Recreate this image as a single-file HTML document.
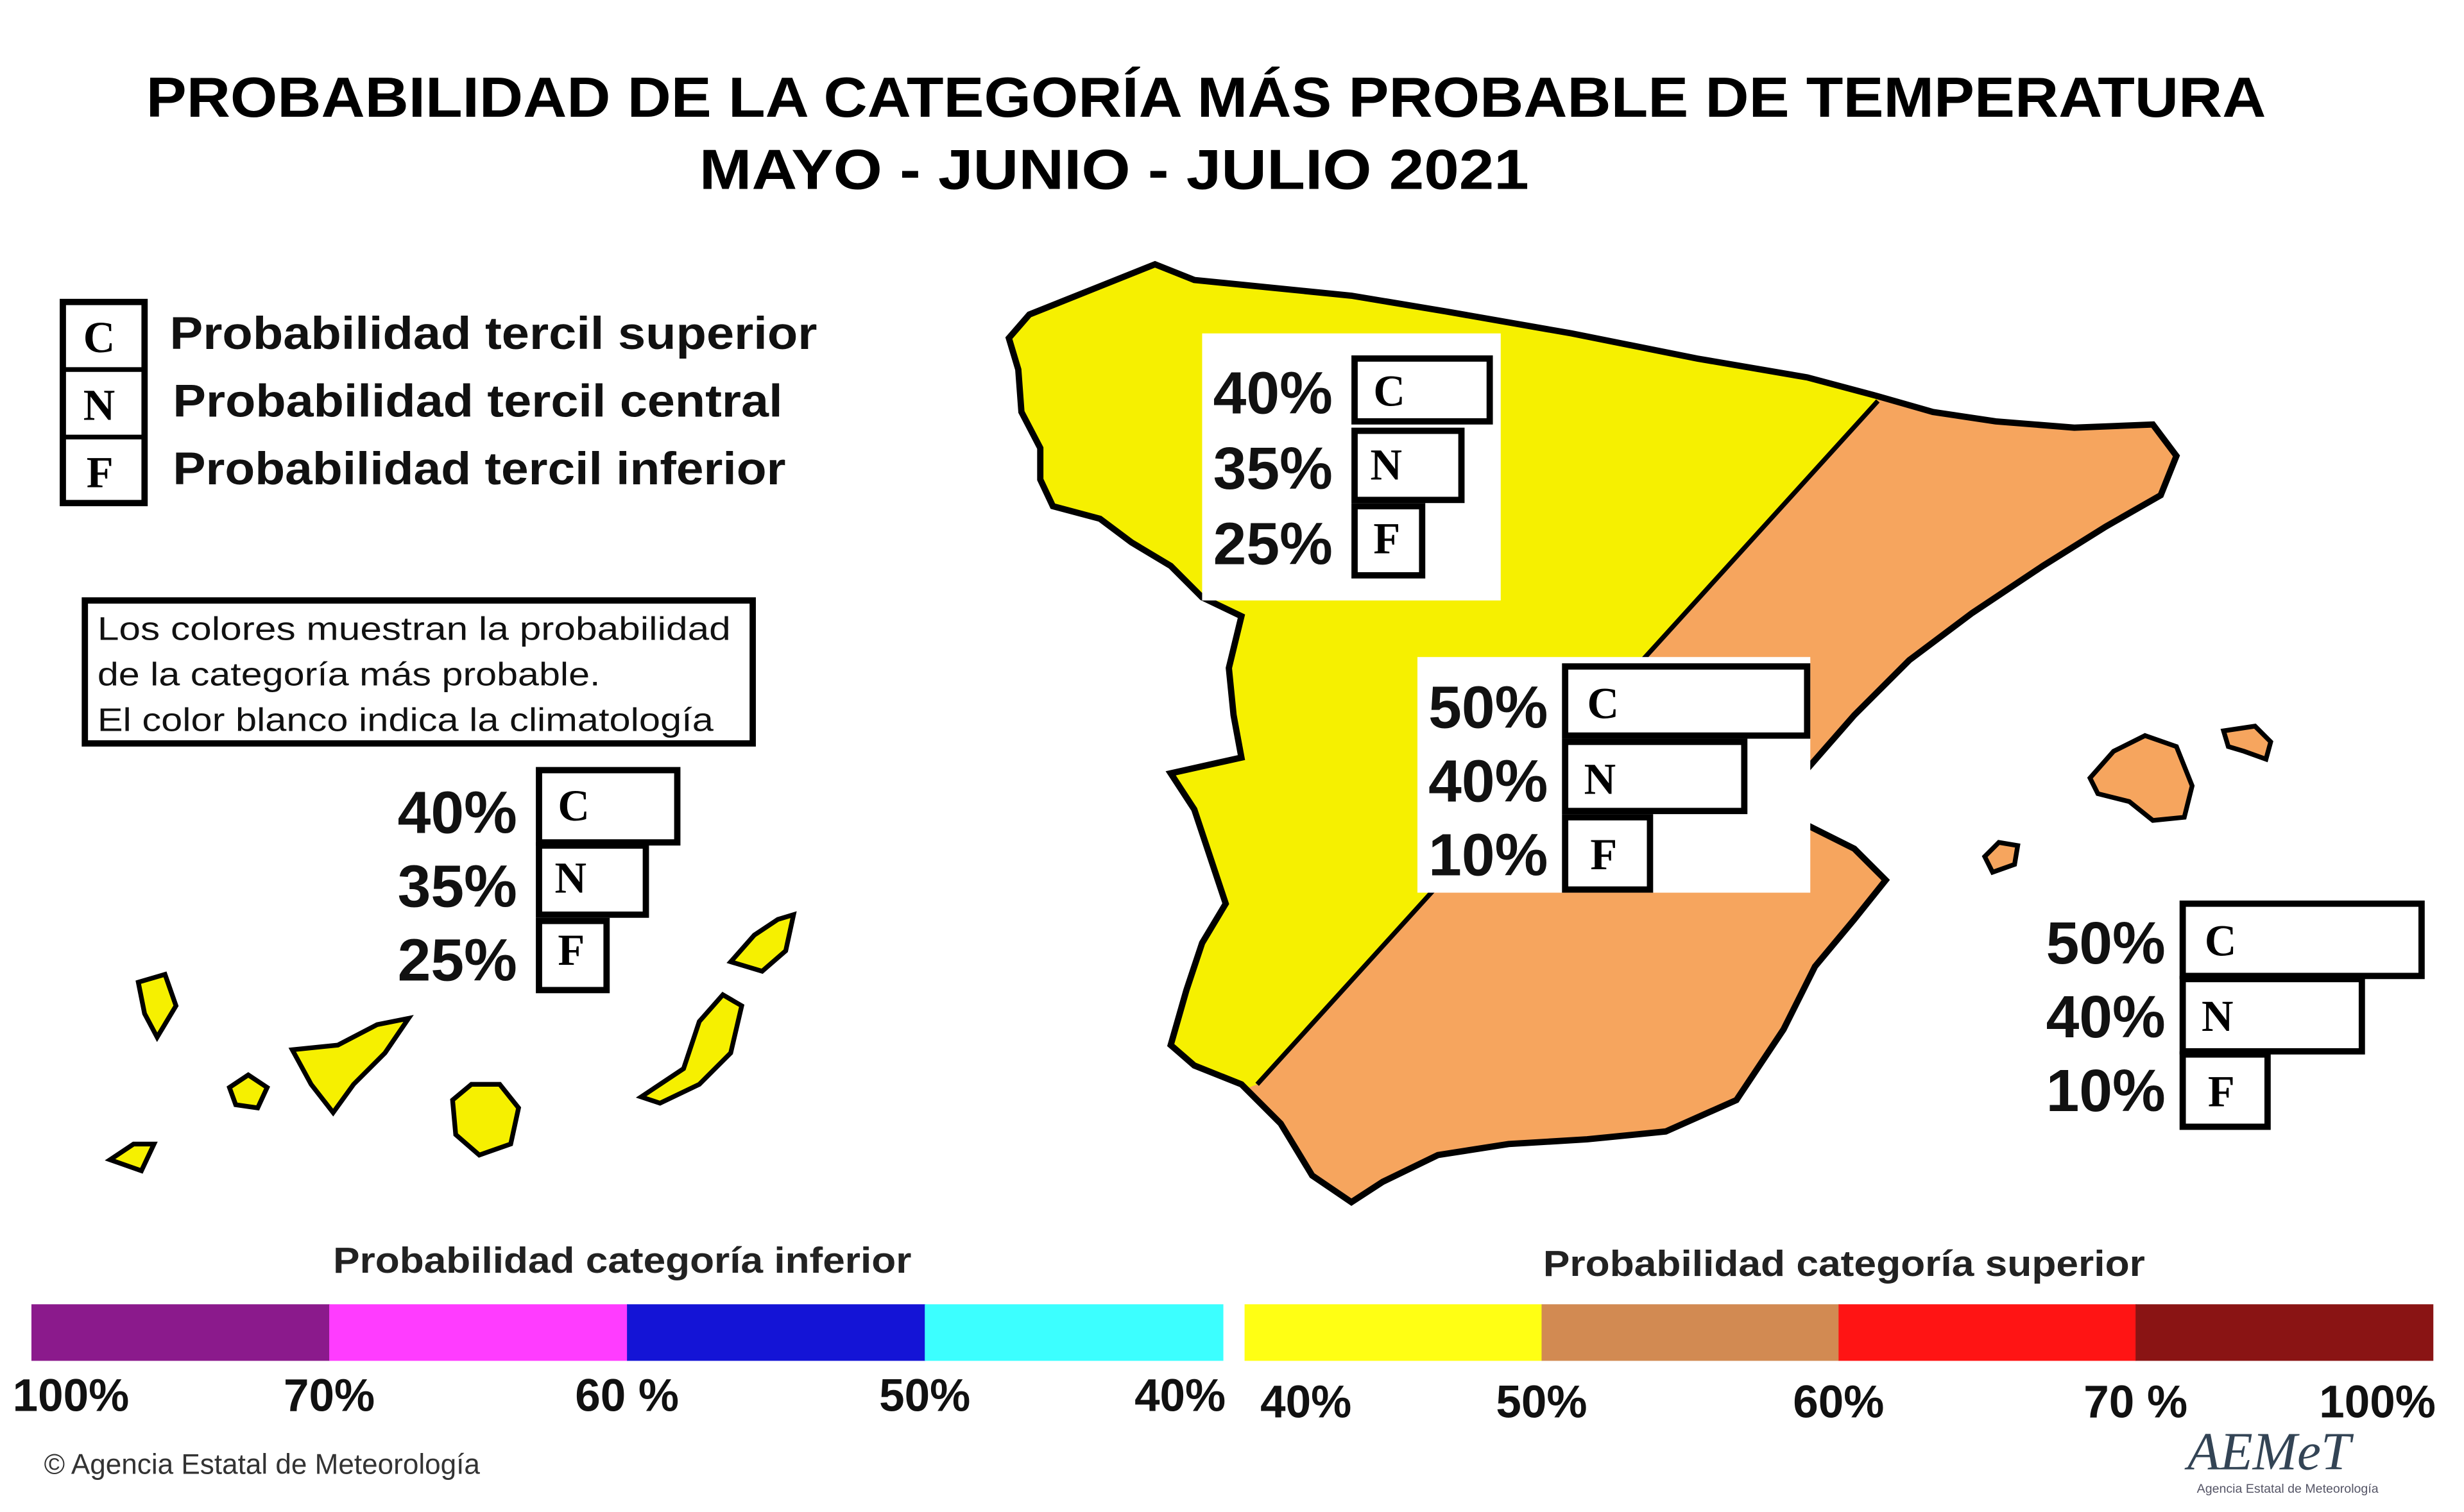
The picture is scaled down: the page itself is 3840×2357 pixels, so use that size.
<!DOCTYPE html>
<html><head><meta charset="utf-8"><style>html,body{margin:0;padding:0;background:#fff}svg{display:block}text{font-family:"Liberation Sans",Arial,sans-serif}</style></head>
<body>
<svg width="3840" height="2357" viewBox="0 0 1568 962" xmlns="http://www.w3.org/2000/svg">
<rect width="1568" height="962" fill="#fff"/>
<text x="93" y="74" font-size="36" font-weight="bold" textLength="1349" lengthAdjust="spacingAndGlyphs">PROBABILIDAD DE LA CATEGORÍA MÁS PROBABLE DE TEMPERATURA</text>
<text x="445" y="120" font-size="36" font-weight="bold" textLength="528" lengthAdjust="spacingAndGlyphs">MAYO - JUNIO - JULIO  2021</text>

<g>
<rect x="40" y="192" width="52" height="128" fill="#fff" stroke="#000" stroke-width="4"/>
<line x1="40" y1="235" x2="92" y2="235" stroke="#000" stroke-width="3"/>
<line x1="40" y1="278" x2="92" y2="278" stroke="#000" stroke-width="3"/>
<g font-weight="bold" font-size="28">
<text x="53" y="224" style="font-family:'Liberation Serif',serif">C</text>
<text x="53" y="267" style="font-family:'Liberation Serif',serif">N</text>
<text x="55" y="310" style="font-family:'Liberation Serif',serif">F</text></g>
<g font-size="29" font-weight="bold" fill="#111">
<text x="108" y="222" textLength="412" lengthAdjust="spacingAndGlyphs">Probabilidad  tercil superior</text>
<text x="110" y="265" textLength="388" lengthAdjust="spacingAndGlyphs">Probabilidad  tercil central</text>
<text x="110" y="308" textLength="390" lengthAdjust="spacingAndGlyphs">Probabilidad  tercil inferior</text></g>
</g>
<g>
<rect x="54" y="382" width="425" height="91" fill="#fff" stroke="#000" stroke-width="4"/>
<g font-size="21" fill="#111">
<text x="62" y="407" textLength="403" lengthAdjust="spacingAndGlyphs">Los colores muestran la probabilidad</text>
<text x="62" y="436" textLength="320" lengthAdjust="spacingAndGlyphs">de la categoría más probable.</text>
<text x="62" y="465" textLength="392" lengthAdjust="spacingAndGlyphs">El color blanco indica la climatología</text></g>
</g>

<defs>
<path id="spain" d="M655,200 L700,182 L735,168 L760,178 L800,182 L860,188 L920,198 L1000,212 L1080,228 L1150,240 L1195,252 L1230,262 L1270,268 L1320,272 L1370,270 L1385,290 L1375,315 L1340,335 L1300,360 L1255,390 L1215,420 L1180,455 L1145,495 L1150,525 L1180,540 L1200,560 L1180,585 L1155,615 L1135,655 L1105,700 L1060,720 L1010,725 L960,728 L915,735 L880,752 L860,765 L835,748 L815,715 L790,690 L760,678 L745,665 L755,630 L765,600 L780,575 L770,545 L760,515 L745,492 L790,482 L785,455 L782,425 L790,392 L765,380 L745,360 L720,345 L700,330 L670,322 L662,305 L662,285 L650,262 L648,235 L642,215 Z"/>
<clipPath id="westclip"><path d="M0,0 L1195,0 L1195,255 L800,690 L0,1000 Z"/></clipPath>
</defs>
<use href="#spain" fill="#f6a55e"/>
<use href="#spain" fill="#f6f000" clip-path="url(#westclip)"/>
<use href="#spain" fill="none" stroke="#000" stroke-width="4"/>
<line x1="1195" y1="255" x2="800" y2="690" stroke="#000" stroke-width="3"/>

<g fill="#f6a55e" stroke="#000" stroke-width="3">
<path d="M1330,495 L1345,478 L1365,468 L1385,475 L1395,500 L1390,520 L1370,522 L1355,510 L1335,505 Z"/>
<path d="M1415,465 L1435,462 L1445,472 L1442,483 L1428,478 L1418,475 Z"/>
<path d="M1263,545 L1272,536 L1284,538 L1282,550 L1268,555 Z"/>
</g>
<g fill="#f6f000" stroke="#000" stroke-width="3">
<path d="M88,625 L105,620 L112,640 L100,660 L92,645 Z"/>
<path d="M146,692 L158,684 L170,692 L164,705 L150,703 Z"/>
<path d="M186,668 L215,665 L240,652 L260,648 L245,670 L225,690 L212,708 L198,690 Z"/>
<path d="M288,700 L300,690 L318,690 L330,705 L325,728 L305,735 L290,722 Z"/>
<path d="M70,738 L85,728 L98,728 L90,745 Z"/>
<path d="M408,698 L435,680 L445,650 L460,633 L472,640 L465,670 L445,690 L420,702 Z"/>
<path d="M465,612 L480,595 L495,585 L505,582 L500,605 L485,618 Z"/>
</g>

<g>
<rect x="765" y="212" width="190" height="170" fill="#fff"/>
<text x="772" y="263" font-size="38" font-weight="bold" fill="#111">40%</text>
<text x="772" y="311" font-size="38" font-weight="bold" fill="#111">35%</text>
<text x="772" y="359" font-size="38" font-weight="bold" fill="#111">25%</text>
<rect x="862" y="228" width="86" height="40" fill="#fff" stroke="#000" stroke-width="4"/>
<rect x="862" y="274" width="68" height="44" fill="#fff" stroke="#000" stroke-width="4"/>
<rect x="862" y="322" width="43" height="44" fill="#fff" stroke="#000" stroke-width="4"/>
<g font-size="28" font-weight="bold"><text x="874" y="258" style="font-family:'Liberation Serif',serif">C</text><text x="872" y="305" style="font-family:'Liberation Serif',serif">N</text><text x="874" y="352" style="font-family:'Liberation Serif',serif">F</text></g>
</g>
<g>
<rect x="902" y="418" width="250" height="150" fill="#fff"/>
<text x="909" y="463" font-size="38" font-weight="bold" fill="#111">50%</text>
<text x="909" y="510" font-size="38" font-weight="bold" fill="#111">40%</text>
<text x="909" y="557" font-size="38" font-weight="bold" fill="#111">10%</text>
<rect x="996" y="424" width="154" height="44" fill="#fff" stroke="#000" stroke-width="4"/>
<rect x="996" y="472" width="114" height="44" fill="#fff" stroke="#000" stroke-width="4"/>
<rect x="996" y="520" width="54" height="46" fill="#fff" stroke="#000" stroke-width="4"/>
<g font-size="28" font-weight="bold"><text x="1010" y="457" style="font-family:'Liberation Serif',serif">C</text><text x="1008" y="505" style="font-family:'Liberation Serif',serif">N</text><text x="1012" y="553" style="font-family:'Liberation Serif',serif">F</text></g>
</g>
<g>
<text x="253" y="530" font-size="38" font-weight="bold" fill="#111">40%</text>
<text x="253" y="577" font-size="38" font-weight="bold" fill="#111">35%</text>
<text x="253" y="624" font-size="38" font-weight="bold" fill="#111">25%</text>
<rect x="343" y="490" width="88" height="46" fill="#fff" stroke="#000" stroke-width="4"/>
<rect x="343" y="538" width="68" height="44" fill="#fff" stroke="#000" stroke-width="4"/>
<rect x="343" y="586" width="43" height="44" fill="#fff" stroke="#000" stroke-width="4"/>
<g font-size="28" font-weight="bold"><text x="355" y="522" style="font-family:'Liberation Serif',serif">C</text><text x="353" y="568" style="font-family:'Liberation Serif',serif">N</text><text x="355" y="614" style="font-family:'Liberation Serif',serif">F</text></g>
</g>
<g>
<text x="1302" y="613" font-size="38" font-weight="bold" fill="#111">50%</text>
<text x="1302" y="660" font-size="38" font-weight="bold" fill="#111">40%</text>
<text x="1302" y="707" font-size="38" font-weight="bold" fill="#111">10%</text>
<rect x="1389" y="575" width="152" height="46" fill="#fff" stroke="#000" stroke-width="4"/>
<rect x="1389" y="623" width="114" height="46" fill="#fff" stroke="#000" stroke-width="4"/>
<rect x="1389" y="671" width="54" height="46" fill="#fff" stroke="#000" stroke-width="4"/>
<g font-size="28" font-weight="bold"><text x="1403" y="608" style="font-family:'Liberation Serif',serif">C</text><text x="1401" y="656" style="font-family:'Liberation Serif',serif">N</text><text x="1405" y="704" style="font-family:'Liberation Serif',serif">F</text></g>
</g>

<text x="212" y="810" font-size="23" font-weight="bold" fill="#222" textLength="368" lengthAdjust="spacingAndGlyphs">Probabilidad categoría inferior</text>
<text x="982" y="812" font-size="23" font-weight="bold" fill="#222" textLength="383" lengthAdjust="spacingAndGlyphs">Probabilidad categoría superior</text>
<g id="scales"></g>
<g id="scalelabels" font-size="29" font-weight="bold" fill="#111"></g>

<text x="28" y="938" font-size="18" fill="#333">© Agencia Estatal de Meteorología</text>
<text x="1392" y="935" font-size="34" font-style="italic" fill="#345" style="font-family:'Liberation Serif',serif">AEMeT</text>
<text x="1398" y="950" font-size="8" fill="#556">Agencia Estatal de Meteorología</text>
</svg>
<script>
const lowerColors=["#8b1a8c","#ff3cff","#1414d6","#3cffff"];
const upperColors=["#ffff14","#d28a52","#ff1414","#8a1414"];
const lowerLabels=["100%","70%","60 %","50%","40%"];
const upperLabels=["40%","50%","60%","70 %","100%"];
const NS="http://www.w3.org/2000/svg";
const g=document.getElementById('scales'), gl=document.getElementById('scalelabels');
function drawScale(colors,labels,x0,x1,name,ly,firstOff){
  const w=(x1-x0)/colors.length;
  colors.forEach((c,i)=>{const r=document.createElementNS(NS,'rect');
    r.setAttribute('x',x0+i*w);r.setAttribute('y',830);r.setAttribute('width',w+0.5);r.setAttribute('height',36);r.setAttribute('fill',c);
    
    
    g.appendChild(r);});
  labels.forEach((t,i)=>{const e=document.createElementNS(NS,'text');
    let x=x0+i*w; let a=i===0?'start':(i===labels.length-1?'end':'middle');
    if(i===0)x+=firstOff; if(i===labels.length-1)x+=2;
    e.setAttribute('x',x);e.setAttribute('y',ly);e.setAttribute('text-anchor',a);e.textContent=t;
    
    
    gl.appendChild(e);});
}
drawScale(lowerColors,lowerLabels,20,778,'lower-scale',898,-12);
drawScale(upperColors,upperLabels,792,1548,'upper-scale',902,10);
</script>
</body></html>
